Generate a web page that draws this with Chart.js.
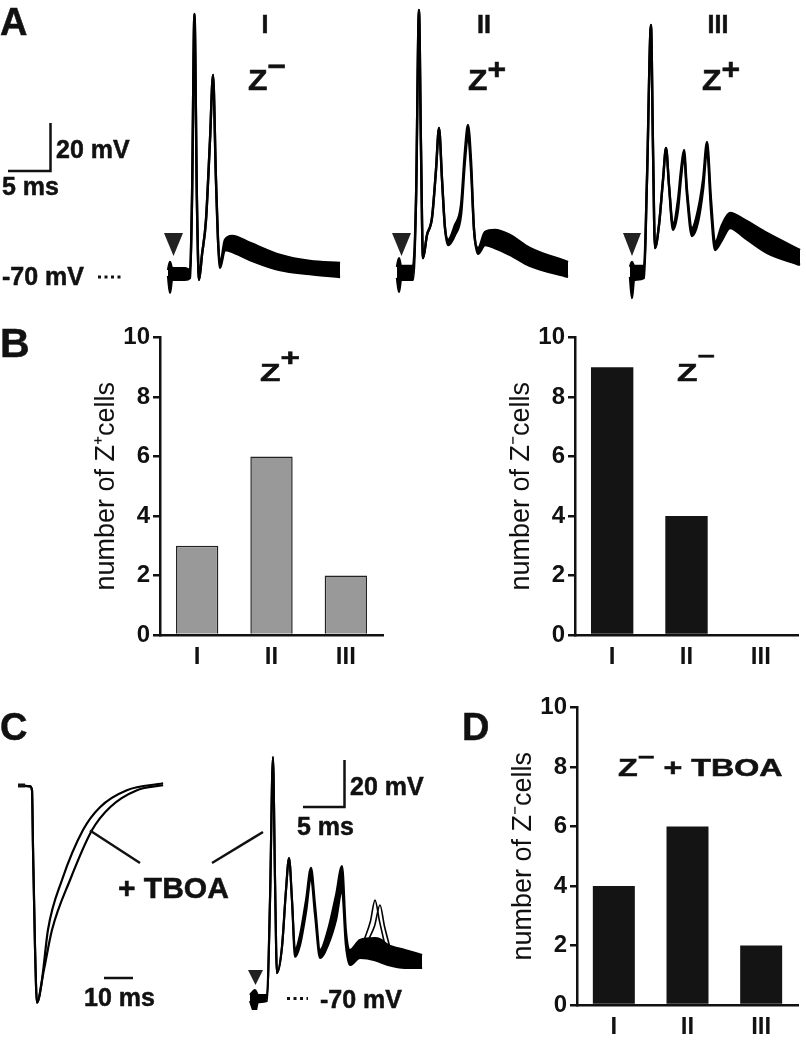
<!DOCTYPE html>
<html>
<head>
<meta charset="utf-8">
<title>Firing patterns of Z+ and Z- cells</title>
<script src="https://cdn.jsdelivr.net/npm/chart.js@4.4.1/dist/chart.umd.min.js"></script>
<style>
  body { margin: 0; background: #fff; }
  #fig { position: relative; width: 806px; height: 1050px; overflow: hidden;
         font-family: "Liberation Sans", Arial, sans-serif; color: #111; }
  #fig canvas { position: absolute; }
  #fig svg { position: absolute; left: 0; top: 0; }
  .lbl { position: absolute; font-weight: bold; line-height: 1; white-space: nowrap;
         -webkit-text-stroke: 0.5px #111; }
  .panel { font-size: 38px; }
  .mid { transform: translateX(-50%); }
  .wide { transform-origin: 0 0; }
  .up { position: relative; }
</style>
</head>
<body>
<div id="fig">
  <!-- A: example recordings -->
  <canvas id="traceA1" width="180" height="300" style="left:165px;top:0"></canvas>
  <canvas id="traceA2" width="180" height="300" style="left:395px;top:0"></canvas>
  <canvas id="traceA3" width="178" height="300" style="left:628px;top:0"></canvas>
  <!-- B: counts -->
  <canvas id="barZplus" width="302" height="355" style="left:88px;top:320px"></canvas>
  <canvas id="barZminus" width="302" height="355" style="left:503px;top:320px"></canvas>
  <!-- C: TBOA -->
  <canvas id="currentC" width="165" height="250" style="left:10px;top:770px"></canvas>
  <canvas id="traceC" width="180" height="270" style="left:245px;top:740px"></canvas>
  <!-- D -->
  <canvas id="barTboa" width="300" height="355" style="left:505px;top:690px"></canvas>

  <svg width="806" height="1050">
    <g stroke="#111" stroke-width="2.5" fill="none">
      <path d="M50.5 123 V171 H8"/>
      <path d="M344.5 760 V807 H303"/>
      <path d="M104 978 H133"/>
      <path d="M90 830.5 L140 863"/>
      <path d="M212 863 L263 832"/>
      <path d="M18 785.5 H25" stroke-width="4"/>
    </g>
    <g stroke="#111" stroke-width="3" stroke-dasharray="3 3.5">
      <path d="M98 277 H122"/>
      <path d="M287 998.5 H308"/>
    </g>
    <g fill="#222">
      <polygon points="164,233 183,233 173.5,256"/>
      <polygon points="392,233 411,233 401.5,256"/>
      <polygon points="623,233 641,233 632,256"/>
      <polygon points="248,970 263,970 255.5,985"/>
    </g>
  </svg>

  <div class="lbl panel" style="left:0;top:3px">A</div>
  <div class="lbl" style="left:0;top:323px;font-size:41px">B</div>
  <div class="lbl panel" style="left:0;top:708px">C</div>
  <div class="lbl panel" style="left:462px;top:708px">D</div>

  <div class="lbl mid" style="left:265px;top:12px;font-size:25px">I</div>
  <div class="lbl mid" style="left:484px;top:12px;font-size:25px">II</div>
  <div class="lbl mid" style="left:718px;top:12px;font-size:25px">III</div>
  <div class="lbl wide" style="left:248px;top:66px;font-size:29px;transform:scaleX(1.1)">Z<span class="up" style="top:-0.5em">−</span></div>
  <div class="lbl wide" style="left:468px;top:66px;font-size:29px;transform:scaleX(1.1)">Z<span class="up" style="top:-0.39em">+</span></div>
  <div class="lbl wide" style="left:702px;top:66px;font-size:29px;transform:scaleX(1.1)">Z<span class="up" style="top:-0.39em">+</span></div>

  <div class="lbl" style="left:56px;top:137px;font-size:25px">20 mV</div>
  <div class="lbl" style="left:2px;top:174px;font-size:25px">5 ms</div>
  <div class="lbl" style="left:2px;top:264px;font-size:25px">-70 mV</div>

  <div class="lbl wide" style="left:260px;top:362px;font-size:23px;transform:scaleX(1.45)">Z<span class="up" style="top:-0.67em">+</span></div>
  <div class="lbl wide" style="left:677px;top:362px;font-size:23px;transform:scaleX(1.45)">Z<span class="up" style="top:-0.88em;font-size:0.9em">−</span></div>

  <div class="lbl" style="left:118px;top:873px;font-size:30px">+ TBOA</div>
  <div class="lbl" style="left:84px;top:985px;font-size:25px">10 ms</div>
  <div class="lbl" style="left:350px;top:774px;font-size:25px">20 mV</div>
  <div class="lbl" style="left:297px;top:814px;font-size:25px">5 ms</div>
  <div class="lbl" style="left:320px;top:987px;font-size:25px">-70 mV</div>

  <div class="lbl wide" style="left:618px;top:757px;font-size:23px;transform:scaleX(1.4)">Z<span class="up" style="top:-0.6em;font-size:0.9em">−</span> + TBOA</div>
</div>

<script>
// number of cells per firing pattern
const patterns = ['I', 'II', 'III'];
const zPlusCells = [3, 6, 2];
const zMinusCells = [9, 4, 0];
const zMinusTboaCells = [4, 6, 2];
const countTicks = [0, 2, 4, 6, 8, 10];

// A, pattern I (Z-): time in ms, upper / lower edge of the sweeps in mV
const tA1 = [0.37, 0.61, 0.86, 2.44, 3.06, 3.3, 3.6, 3.9, 4.16, 4.52, 5.01, 5.5, 5.87, 6.23, 6.48, 6.72, 7.33, 8.19, 10.4, 14.06, 17.7, 21.4];
const hiA1 = [-68.8, -65.5, -68, -68, -68.8, -40.2, 35.7, -40.2, -72.8, -62.6, -48.4, -15.7, 10.8, -32, -56.5, -66.3, -56.5, -54.9, -57.7, -62.6, -65.1, -65.9];
const loA1 = [-71.2, -78.1, -72.8, -72.8, -72, -40.2, 35.7, -40.2, -72.8, -62.6, -48.4, -15.7, 10.8, -32, -56.5, -67.9, -60.6, -61.4, -64.7, -68.8, -70.4, -71.6];

// A, pattern II (Z+)
const tA2 = [0.24, 0.49, 0.73, 2.2, 2.57, 2.93, 3.18, 3.42, 3.91, 4.52, 5.01, 5.38, 5.75, 6.11, 6.48, 7.33, 8.07, 8.56, 8.92, 9.29, 9.66, 10.15, 11, 12.2, 14.06, 16.5, 21.15];
const hiA2 = [-67.5, -63.9, -67.1, -67.1, -40.2, 37.3, -19.8, -63.9, -54.5, -47.5, -28, -10.8, -32, -51.6, -56.5, -50.4, -42.2, -19.8, -9.6, -23.9, -52.4, -59.8, -53.3, -52.4, -54.5, -59.8, -65.5];
const loA2 = [-72, -77.7, -72.8, -72.8, -40.2, 37.3, -19.8, -63.9, -54.5, -47.5, -28, -10.8, -32, -51.6, -58.6, -54.5, -46.3, -23.9, -13.7, -28, -52.4, -62.2, -58.6, -59.8, -62.6, -67.1, -71.6];

// A, pattern III (Z+)
const tA3 = [0.24, 0.49, 0.73, 1.96, 2.32, 2.81, 3.06, 3.3, 3.79, 4.28, 4.65, 5.01, 5.5, 6.11, 6.48, 6.85, 7.21, 7.82, 8.56, 9.17, 9.66, 10.15, 10.64, 11.49, 12.47, 14.3, 17, 21.03];
const hiA3 = [-67.5, -65.5, -67.1, -67.1, -32, 31.2, -19.8, -59.8, -50.4, -32, -19, -34.1, -50.4, -40.2, -28, -19.8, -36.1, -51.6, -44.3, -32, -16.5, -40.2, -57.7, -50.4, -45.5, -48.4, -53.7, -60.6];
const loA3 = [-71.6, -80.2, -72.8, -72, -32, 31.2, -19.8, -59.8, -50.4, -32, -19, -34.1, -52.4, -44.3, -31.2, -22.2, -38.2, -54.9, -49.2, -36.1, -19.8, -44.3, -60.6, -56.5, -51.6, -55.7, -61.8, -66.7];

// C, synaptic currents (normalised to peak), control and + TBOA
const tFast = [2.76, 6.9, 7.59, 7.93, 8.62, 9.31, 11.03, 13.1, 17.93, 25.17, 31.03, 40.3, 52.8];
const iFast = [0, -0.005, -0.023, -0.284, -0.743, -1, -0.894, -0.665, -0.436, -0.206, -0.101, -0.023, 0.009];
const tSlow = [2.76, 6.9, 7.59, 7.93, 8.62, 9.31, 11.7, 14.5, 20.7, 28.3, 34.5, 43.8, 52.8];
const iSlow = [0, -0.005, -0.023, -0.284, -0.743, -1, -0.849, -0.665, -0.436, -0.206, -0.101, -0.023, 0];

// C, Z- cell firing in TBOA
const tC = [0.61, 1.22, 1.59, 2.68, 3.05, 3.41, 3.66, 3.9, 4.51, 5, 5.37, 5.73, 6.1, 6.71, 7.44, 8.05, 8.54, 9.15, 10.12, 11.1, 11.83, 12.3, 12.8, 14.02, 15.85, 16.46, 17.44, 19.5, 21.6];
const hiC = [-68.75, -66.7, -68.75, -68.75, -29.2, 30.4, -20.8, -59.6, -48.75, -25, -11.7, -29.2, -50, -43.75, -29.2, -15.8, -31.25, -50, -41.7, -27.1, -15, -41.7, -50, -45.8, -45, -45.5, -47.9, -50, -52.1];
const loC = [-71.25, -76.25, -71.7, -71.25, -29.2, 30.4, -20.8, -59.6, -48.75, -25, -11.7, -29.2, -52.9, -47.9, -34.2, -20, -35.4, -53.3, -47.9, -37.5, -25, -47.9, -56.25, -53.3, -54.2, -55, -56.25, -57.5, -57.5];
// the few sweeps with a late spike
const tLate1 = [14.5, 15.3, 15.85, 16.4, 17.0];
const vLate1 = [-46, -38, -29.2, -38, -47];
const tLate2 = [15.0, 15.8, 16.46, 17.0, 17.6];
const vLate2 = [-46, -40, -31.25, -40, -48];

Chart.defaults.font.family = '"Liberation Sans", Arial, sans-serif';
Chart.defaults.color = '#111';

const ink = '#111';
const tickFont = { size: 24, weight: 'bold' };

function pts(t, v) {
    return t.map((x, i) => ({ x: x, y: v[i] }));
}

function line(t, v, width, fill) {
    return {
        data: pts(t, v),
        borderColor: '#000',
        borderWidth: width,
        pointRadius: 0,
        cubicInterpolationMode: 'monotone',
        fill: fill ? '-1' : false,
        backgroundColor: '#000'
    };
}

// traces: no axes, x in ms, y in mV (or normalised current)
function traceChart(id, datasets, xMax, yMin, yMax) {
    return new Chart(document.getElementById(id), {
        type: 'line',
        data: { datasets: datasets },
        options: {
            responsive: false,
            animation: false,
            events: [],
            layout: { padding: 0 },
            plugins: { legend: { display: false }, tooltip: { enabled: false } },
            scales: {
                x: { type: 'linear', display: false, min: 0, max: xMax },
                y: { display: false, min: yMin, max: yMax }
            }
        }
    });
}

function countChart(id, values, fill, edge, yTitle) {
    return new Chart(document.getElementById(id), {
        type: 'bar',
        data: {
            labels: patterns,
            datasets: [{
                data: values,
                backgroundColor: fill,
                borderColor: edge || fill,
                borderWidth: edge ? 1.5 : 0,
                barPercentage: 0.57,
                categoryPercentage: 1
            }]
        },
        options: {
            responsive: false,
            animation: false,
            events: [],
            layout: { padding: { top: 16, right: 7, left: 0, bottom: 0 } },
            plugins: { legend: { display: false }, tooltip: { enabled: false } },
            scales: {
                x: {
                    grid: { display: false, drawTicks: false },
                    border: { display: true, color: ink, width: 2.5 },
                    ticks: { color: ink, font: tickFont, padding: 8 },
                    afterFit: (axis) => { axis.height = 40; }
                },
                y: {
                    min: 0,
                    max: 10,
                    afterBuildTicks: (axis) => { axis.ticks = countTicks.map(v => ({ value: v })); },
                    grid: { drawOnChartArea: false, color: ink, lineWidth: 2.5, tickLength: 7 },
                    border: { display: true, color: ink, width: 2.5 },
                    ticks: { color: ink, font: tickFont, padding: 3 },
                    title: {
                        display: true,
                        text: yTitle,
                        color: ink,
                        font: { size: 27, weight: 'normal', lineHeight: 1 },
                        padding: { top: 5.5, bottom: 0 }
                    },
                    afterFit: (axis) => { axis.width = 72; }
                }
            }
        }
    });
}

traceChart('traceA1', [line(tA1, hiA1, 2.4), line(tA1, loA1, 2.4, true)], 22, -81, 41.4);
traceChart('traceA2', [line(tA2, hiA2, 2.4), line(tA2, loA2, 2.4, true)], 22, -81, 41.4);
traceChart('traceA3', [line(tA3, hiA3, 2.4), line(tA3, loA3, 2.4, true)], 21.76, -81, 41.4);

countChart('barZplus', zPlusCells, '#999999', '#222222', 'number of Z\u207Acells');
countChart('barZminus', zMinusCells, '#141414', null, 'number of Z\u207Bcells');

traceChart('currentC', [line(tFast, iFast, 2.2), line(tSlow, iSlow, 2.2)], 56.9, -1.08, 0.07);
traceChart('traceC', [
    line(tC, hiC, 2.2),
    line(tC, loC, 2.2, true),
    line(tLate1, vLate1, 1.6),
    line(tLate2, vLate2, 1.6)
], 21.95, -75, 37.5);

countChart('barTboa', zMinusTboaCells, '#141414', null, 'number of Z\u207Bcells');
</script>
</body>
</html>
